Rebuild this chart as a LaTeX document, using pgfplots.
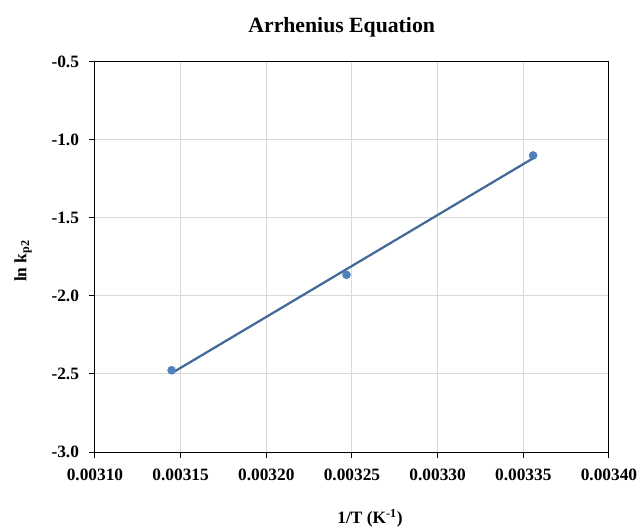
\documentclass[border=0pt]{standalone}
\usepackage{fontspec}
\setmainfont{Liberation Serif}
\usepackage{pgfplots}
\pgfplotsset{compat=1.18}
\definecolor{mk}{RGB}{79,129,189}
\definecolor{ln}{RGB}{68,106,152}
\definecolor{gridc}{RGB}{217,217,217}
\begin{document}
\begin{tikzpicture}
\useasboundingbox (-71.25pt,-60pt) rectangle (408.75pt,339pt);
\begin{axis}[
  at={(0,0)}, anchor=south west,
  scale only axis, width=385.5pt, height=292.5pt,
  xmin=0.00310, xmax=0.00340, ymin=-3.0, ymax=-0.5,
  xtick={0.00310,0.00315,0.00320,0.00325,0.00330,0.00335,0.00340},
  ytick={-3.0,-2.5,-2.0,-1.5,-1.0,-0.5},
  scaled x ticks=false,
  xticklabel style={/pgf/number format/.cd, fixed, fixed zerofill, precision=5, assume math mode=true, /tikz/.cd, yshift=-4.5pt},
  yticklabel style={/pgf/number format/.cd, fixed, fixed zerofill, precision=1, assume math mode=true, /tikz/.cd, xshift=-4pt},
  tick label style={font=\fontsize{13}{15}\selectfont\bfseries},
  tick align=outside, xtick pos=bottom, ytick pos=left,
  major tick length=4.5pt,
  every tick/.style={black, line width=0.75pt},
  axis line style={black, line width=0.75pt},
  grid=major, major grid style={gridc, line width=0.75pt},
  title={Arrhenius Equation},
  title style={font=\fontsize{16.3}{19}\selectfont\bfseries, at={(axis description cs:0.48,1)}, anchor=center, yshift=20.25pt},
  xlabel={1/T (K\textsuperscript{-1})},
  xlabel style={font=\fontsize{13}{16}\selectfont\bfseries, at={(axis description cs:0.535,0)}, anchor=center, yshift=-49.5pt},
  ylabel={ln k\textsubscript{p2}},
  ylabel style={font=\fontsize{13}{16}\selectfont\bfseries, at={(axis description cs:-0.14,0.49)}, anchor=center},
]
\addplot[ln, line width=1.7pt, no marks] coordinates {(0.0031447,-2.495) (0.0033557,-1.117)};
\addplot[only marks, mark=*, mark size=3pt, mk, mark options={draw=mk, fill=mk}] coordinates {
(0.0031447,-2.476) (0.0032468,-1.864) (0.0033557,-1.099)};
\end{axis}
\end{tikzpicture}
\end{document}
